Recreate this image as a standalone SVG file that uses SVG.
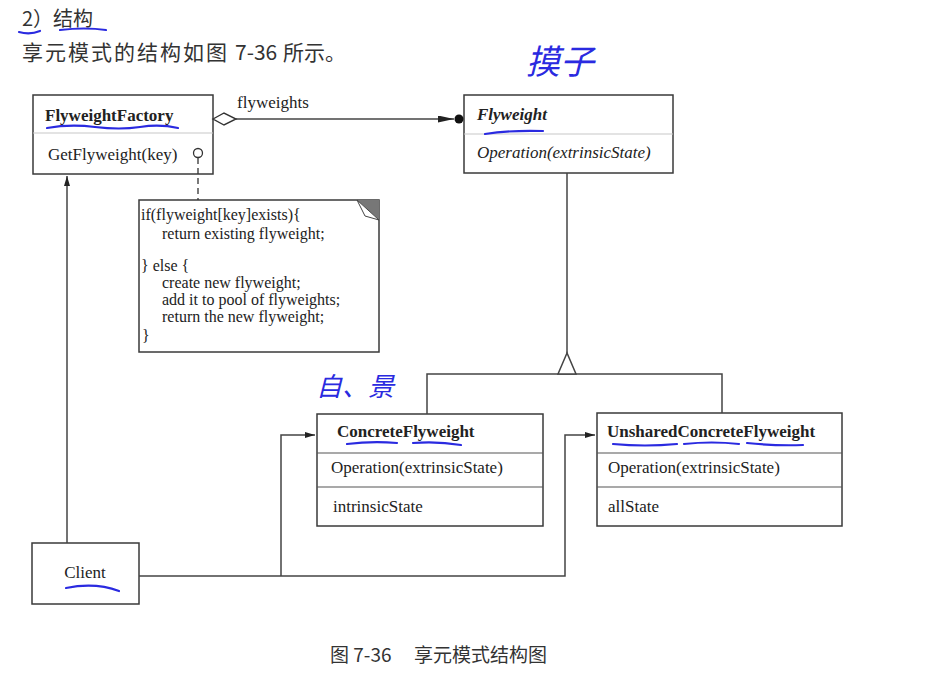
<svg xmlns="http://www.w3.org/2000/svg" width="941" height="676" viewBox="0 0 941 676">
<defs>
<style>
.box{fill:#fff;stroke:#3a3a3a;stroke-width:1.5}
.div{stroke:#c8c8c8;stroke-width:1.2}
.div2{stroke:#555;stroke-width:1.2}
.ln{fill:none;stroke:#444;stroke-width:1.5}
.t{font-family:"Liberation Serif","Times New Roman",serif;font-size:17px;fill:#222}
.n{font-family:"Liberation Serif","Times New Roman",serif;font-size:16px;fill:#222}
.b{font-weight:bold}
.i{font-style:italic}
.cjk{font-family:"Noto Sans CJK SC","Noto Sans CJK JP",sans-serif;fill:#333}
.hand{fill:none;stroke:#2a2ae0;stroke-width:2.2;stroke-linecap:round}
.handt{font-family:"Noto Sans CJK SC",sans-serif;fill:#2a2ae0}
</style>
<marker id="arr" viewBox="0 0 10 6" refX="10" refY="3" markerWidth="10" markerHeight="6" markerUnits="userSpaceOnUse" orient="auto">
<path d="M0,0 L10,3 L0,6 z" fill="#222"/>
</marker>
<marker id="arrL" viewBox="0 0 16 7" refX="16" refY="3.5" markerWidth="16" markerHeight="7" markerUnits="userSpaceOnUse" orient="auto">
<path d="M0,0 L16,3.5 L0,7 z" fill="#222"/>
</marker>
</defs>
<rect width="941" height="676" fill="#fff"/>

<!-- header -->
<text class="cjk" x="22" y="26" font-size="20">2）结构</text>
<text class="cjk" x="22" y="60" font-size="21" letter-spacing="2">享元模式的结构如图</text>
<text class="cjk" x="235" y="60" font-size="21">7-36</text>
<text class="cjk" x="283" y="60" font-size="21">所示。</text>
<path class="hand" d="M19,32 Q30,35 40,31"/>
<path class="hand" d="M60,30 Q85,27 106,30"/>

<!-- FlyweightFactory -->
<g id="FlyweightFactory">
<rect class="box" x="33" y="95" width="180" height="79"/>
<line class="div" x1="33" y1="133" x2="213" y2="133"/>
<text class="t b" x="45" y="121">FlyweightFactory</text>
<text class="t" x="48" y="160">GetFlyweight(key)</text>
<path class="hand" d="M47,128 Q70,124 95,127 T140,127 T178,128"/>
</g>

<!-- Flyweight -->
<g id="Flyweight">
<rect class="box" x="464" y="95" width="209" height="78"/>
<line class="div" x1="464" y1="134" x2="673" y2="134"/>
<text class="t b i" x="477" y="120">Flyweight</text>
<text class="t i" x="477" y="158">Operation(extrinsicState)</text>
<path class="hand" d="M485,134 Q510,130 543,131"/>
<text class="handt" x="526" y="74" font-size="34" font-style="italic">摸子</text>
</g>

<!-- Note -->
<g id="Note">
<rect class="box" x="139" y="200" width="240" height="152"/>
<polygon points="357,200 379,200 379,220" fill="#777"/>
<path d="M357,200 L379,220 L365,216 Z" fill="#fff" stroke="#444" stroke-width="1"/>
<text class="n" x="141" y="220">if(flyweight[key]exists){</text>
<text class="n" x="162" y="239">return existing flyweight;</text>
<text class="n" x="141" y="271">} else {</text>
<text class="n" x="162" y="288">create new flyweight;</text>
<text class="n" x="162" y="305">add it to pool of flyweights;</text>
<text class="n" x="162" y="322">return the new flyweight;</text>
<text class="n" x="142" y="341">}</text>
</g>

<!-- ConcreteFlyweight -->
<g id="ConcreteFlyweight">
<rect class="box" x="317" y="414" width="226" height="112"/>
<line class="div2" x1="317" y1="453" x2="543" y2="453"/>
<line class="div2" x1="317" y1="487" x2="543" y2="487"/>
<text class="t b" x="337" y="437">ConcreteFlyweight</text>
<text class="t" x="331" y="473">Operation(extrinsicState)</text>
<text class="t" x="333" y="512">intrinsicState</text>
<path class="hand" d="M347,444 Q372,441 397,443"/>
<path class="hand" d="M413,443 Q437,441 461,445"/>
<text class="handt" x="316" y="396" font-size="26" font-style="italic">自、景</text>
</g>

<!-- UnsharedConcreteFlyweight -->
<g id="UnsharedConcreteFlyweight">
<rect class="box" x="597" y="413" width="245" height="113"/>
<line class="div2" x1="597" y1="453" x2="842" y2="453"/>
<line class="div2" x1="597" y1="487" x2="842" y2="487"/>
<text class="t b" x="607" y="437">UnsharedConcreteFlyweight</text>
<text class="t" x="608" y="473">Operation(extrinsicState)</text>
<text class="t" x="608" y="512">allState</text>
<path class="hand" d="M613,444 Q645,447 677,444"/>
<path class="hand" d="M684,444 Q712,441 739,444"/>
<path class="hand" d="M747,443 Q775,446 803,445"/>
</g>

<!-- Client -->
<g id="Client">
<rect class="box" x="32" y="543" width="107" height="61"/>
<text class="t" x="85" y="578" text-anchor="middle">Client</text>
<path class="hand" d="M66,588 Q95,582 119,591"/>
</g>

<!-- connectors -->
<g id="connectors">
<path class="ln" d="M236,119 L454,119" marker-end="url(#arrL)"/>
<circle cx="459" cy="119" r="4.5" fill="#111"/>
<polygon points="213,119 224,113 236,119 224,125" fill="#fff" stroke="#333" stroke-width="1.4"/>
<text class="t" x="237" y="108">flyweights</text>

<path class="ln" d="M567,173 L567,353"/>
<path class="ln" d="M427,414 L427,374 L722,374 L722,413"/>
<polygon points="567,353 558,374 576,374" fill="#fff" stroke="#444" stroke-width="1.5"/>

<path class="ln" d="M67,543 L67,176" marker-end="url(#arr)"/>
<path class="ln" d="M139,576 L565,576 L565,435 L595,435" marker-end="url(#arr)"/>
<path class="ln" d="M281,576 L281,435 L315,435" marker-end="url(#arr)"/>

<circle cx="198" cy="153" r="4.5" fill="#fff" stroke="#333" stroke-width="1.3"/>
<path d="M198,158 L198,200" stroke="#333" stroke-width="1.3" stroke-dasharray="6,4"/>
</g>

<!-- caption -->
<text class="cjk" x="330" y="662" font-size="19">图 7-36</text>
<text class="cjk" x="414" y="662" font-size="19">享元模式结构图</text>
</svg>
